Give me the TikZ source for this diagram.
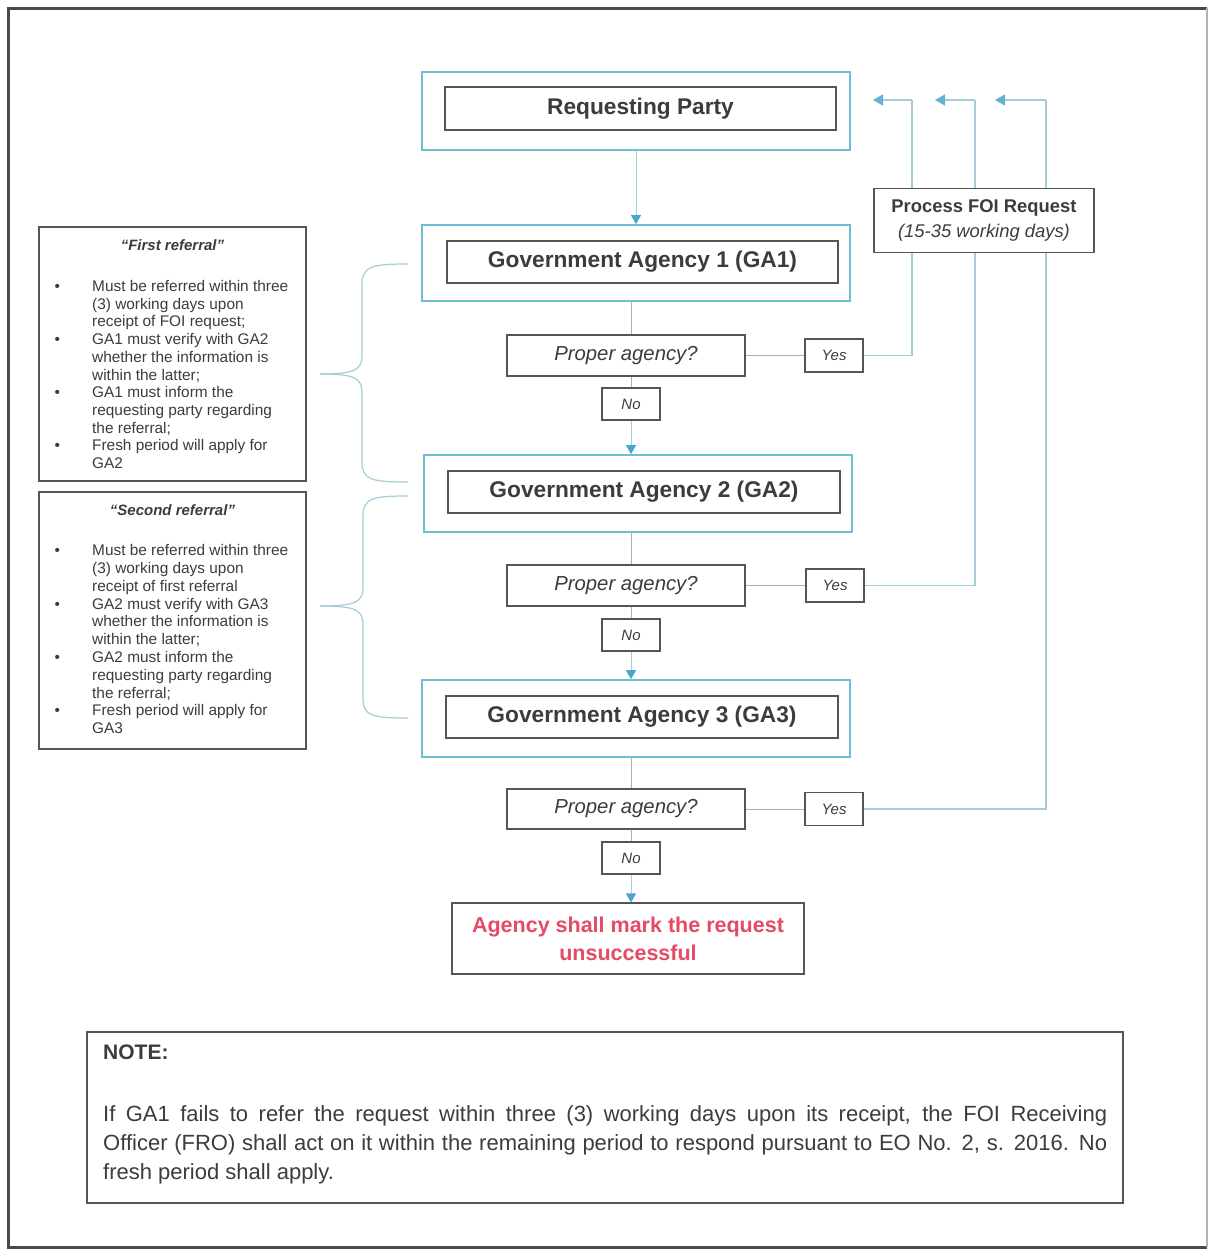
\documentclass[tikz,border=0pt]{standalone}
\usepackage{fontspec}
\setmainfont{Liberation Sans}
\usetikzlibrary{arrows.meta}
\definecolor{teal1}{RGB}{110,190,212}
\definecolor{tline}{RGB}{165,205,215}
\definecolor{gline}{RGB}{175,175,175}
\definecolor{boxg}{RGB}{85,85,85}
\definecolor{txt}{RGB}{60,60,60}
\definecolor{arrowb}{RGB}{70,165,210}
\definecolor{redt}{RGB}{228,75,100}
\definecolor{framec}{RGB}{75,75,75}
\begin{document}
\begin{tikzpicture}[x=1pt,y=-1pt,
  tealbox/.style={draw=teal1,line width=1.8pt,fill=white,inner sep=0pt},
  graybox/.style={draw=boxg,line width=1.2pt,fill=white,inner sep=0pt,text=txt},
  gatext/.style={font=\fontsize{22.7}{26}\selectfont\bfseries},
  qtext/.style={font=\fontsize{20.3}{24}\selectfont\itshape},
  smalltext/.style={font=\fontsize{15}{18}\selectfont\itshape},
  flow/.style={draw=gline,line width=1pt},
  flowarrow/.style={draw=tline,line width=1pt,-{Triangle[width=10pt,length=9pt,color=arrowb]}},
  ret/.style={draw=tline,line width=1.2pt},
  retarrow/.style={draw=tline,line width=1.2pt,-{Triangle[width=11pt,length=10pt,color=arrowb!70!tline]}},
  bracec/.style={draw=tline,line width=1.2pt},
  notebox/.style={draw=boxg,line width=1.2pt,inner sep=0pt}
]
\useasboundingbox (0,0) rectangle (1210,1250);
\fill[white] (0,0) rectangle (1210,1250);
% outer frame
\draw[framec,line width=3pt] (1207,8) -- (8,8) -- (8,1247) -- (1207,1247);
\draw[gray!60,line width=1.5pt] (1207,8) -- (1207,1247);

\coordinate (c1) at (912,100);
\coordinate (c2) at (975,100);
\coordinate (c3) at (1046,100);
\coordinate (t1) at (873,100);
\coordinate (t2) at (935,100);
\coordinate (t3) at (995,100);

% main column
\node[tealbox,minimum width=428pt,minimum height=78pt] (rpo) at (636,111) {};
\node[graybox,minimum width=391pt,minimum height=43pt,gatext] (rp) at (640.5,108.5) {Requesting Party};

\node[tealbox,minimum width=428pt,minimum height=76pt] (ga1o) at (636,263) {};
\node[graybox,minimum width=391pt,minimum height=42pt,gatext] (ga1) at (642.5,262) {Government Agency 1 (GA1)};

\node[graybox,minimum width=238pt,minimum height=41pt,qtext] (pa1) at (626,355.5) {Proper agency?};
\node[graybox,minimum width=58pt,minimum height=33pt,smalltext] (yes1) at (834,355.5) {Yes};
\node[graybox,minimum width=58pt,minimum height=32pt,smalltext] (no1) at (631,404) {No};

\node[tealbox,minimum width=428pt,minimum height=77pt] (ga2o) at (638,493.5) {};
\node[graybox,minimum width=392pt,minimum height=42pt,gatext] (ga2) at (644,492) {Government Agency 2 (GA2)};

\node[graybox,minimum width=238pt,minimum height=41pt,qtext] (pa2) at (626,585.5) {Proper agency?};
\node[graybox,minimum width=58pt,minimum height=33pt,smalltext] (yes2) at (835,585.5) {Yes};
\node[graybox,minimum width=58pt,minimum height=32pt,smalltext] (no2) at (631,635) {No};

\node[tealbox,minimum width=428pt,minimum height=77pt] (ga3o) at (636,718.5) {};
\node[graybox,minimum width=392pt,minimum height=42pt,gatext] (ga3) at (642,717) {Government Agency 3 (GA3)};

\node[graybox,minimum width=238pt,minimum height=40pt,qtext] (pa3) at (626,809) {Proper agency?};
\node[graybox,minimum width=58pt,minimum height=33pt,smalltext] (yes3) at (834,809) {Yes};
\node[graybox,minimum width=58pt,minimum height=32pt,smalltext] (no3) at (631,858) {No};

\node[graybox,minimum width=352pt,minimum height=71pt,align=center,text=redt,
  font=\fontsize{21.5}{28}\selectfont\bfseries] (fin) at (628,938.5) {Agency shall mark the request\\unsuccessful};

% flow connectors
\draw[flowarrow] (rpo.south) -- (ga1o.north);
\draw[flow] (ga1o.south -| no1) -- (pa1.north -| no1);
\draw[flow] (pa1.south -| no1) -- (no1.north);
\draw[flowarrow] (no1.south) -- (ga2o.north -| no1);
\draw[flow] (ga2o.south -| no2) -- (pa2.north -| no2);
\draw[flow] (pa2.south -| no2) -- (no2.north);
\draw[flowarrow] (no2.south) -- (ga3o.north -| no2);
\draw[flow] (ga3o.south -| no3) -- (pa3.north -| no3);
\draw[flow] (pa3.south -| no3) -- (no3.north);
\draw[flowarrow] (no3.south) -- (fin.north -| no3);

\draw[flow] (pa1.east) -- (yes1.west);
\draw[flow] (pa2.east) -- (yes2.west);
\draw[flow] (pa3.east) -- (yes3.west);

\draw[ret] (yes1.east) -| (c1);
\draw[retarrow] (c1) -- (t1);
\draw[ret] (yes2.east) -| (c2);
\draw[retarrow] (c2) -- (t2);
\draw[ret] (yes3.east) -| (c3);
\draw[retarrow] (c3) -- (t3);

% process box
\node[graybox,minimum width=220pt,minimum height=64pt,align=center,
  font=\fontsize{18.4}{25}\selectfont] (proc) at (984,220.5)
  {\textbf{Process FOI Request}\\\textit{(15-35 working days)}};

% left referral boxes
\node[graybox,minimum width=267pt,minimum height=254pt] (ref1) at (172.5,354) {};
\node[text=txt,font=\fontsize{15}{18}\selectfont\bfseries\itshape,inner sep=0pt] (ref1t) at (172.5,245) {“First referral”};
\node[text=txt,anchor=north west,inner sep=0pt,font=\fontsize{15.4}{17.7}\selectfont] (ref1b) at (54.5,279)
{\begin{tabular}{@{}p{37.5pt}@{}l@{}}
\textbullet & Must be referred within three\\
 & (3) working days upon\\
 & receipt of FOI request;\\
\textbullet & GA1 must verify with GA2\\
 & whether the information is\\
 & within the latter;\\
\textbullet & GA1 must inform the\\
 & requesting party regarding\\
 & the referral;\\
\textbullet & Fresh period will apply for\\
 & GA2
\end{tabular}};

\node[graybox,minimum width=267pt,minimum height=257pt] (ref2) at (172.5,620.5) {};
\node[text=txt,font=\fontsize{15}{18}\selectfont\bfseries\itshape,inner sep=0pt] (ref2t) at (172.5,510) {“Second referral”};
\node[text=txt,anchor=north west,inner sep=0pt,font=\fontsize{15.4}{17.8}\selectfont] (ref2b) at (54.5,543)
{\begin{tabular}{@{}p{37.5pt}@{}l@{}}
\textbullet & Must be referred within three\\
 & (3) working days upon\\
 & receipt of first referral\\
\textbullet & GA2 must verify with GA3\\
 & whether the information is\\
 & within the latter;\\
\textbullet & GA2 must inform the\\
 & requesting party regarding\\
 & the referral;\\
\textbullet & Fresh period will apply for\\
 & GA3
\end{tabular}};

% braces
\coordinate (b1top) at (408,264);
\coordinate (b1tip) at (320,374);
\coordinate (b1bot) at (408,482);
\draw[bracec] (b1top) .. controls (372,264) and (362,266) .. (362,285) -- (362,355)
  .. controls (362,370) and (355,374) .. (b1tip);
\draw[bracec] (b1tip) .. controls (355,374) and (362,378) .. (362,393) -- (362,462)
  .. controls (362,480) and (372,482) .. (b1bot);
\coordinate (b2top) at (408,496);
\coordinate (b2tip) at (320,606);
\coordinate (b2bot) at (408,718);
\draw[bracec] (b2top) .. controls (372,496) and (363,498) .. (363,517) -- (363,587)
  .. controls (363,602) and (356,606) .. (b2tip);
\draw[bracec] (b2tip) .. controls (356,606) and (363,610) .. (363,625) -- (363,698)
  .. controls (363,716) and (372,718) .. (b2bot);

% note
\node[notebox,minimum width=1036pt,minimum height=171pt] (note) at (605,1117.5) {};
\node[anchor=west,inner sep=0pt,text=txt,font=\fontsize{21}{25}\selectfont\bfseries] (notet) at (103,1052) {NOTE:};
\node[anchor=north west,inner sep=0pt,text=txt,text width=1004pt,align=justify,
  font=\fontsize{22}{29}\selectfont] (noteb) at (103,1105.5)
{If GA1 fails to refer the request within three (3) working days upon its receipt, the FOI Receiving\linebreak
Officer (FRO) shall act on it within the remaining period to respond pursuant to EO No. 2, s. 2016. No\linebreak
fresh period shall apply.};
\end{tikzpicture}
\end{document}
